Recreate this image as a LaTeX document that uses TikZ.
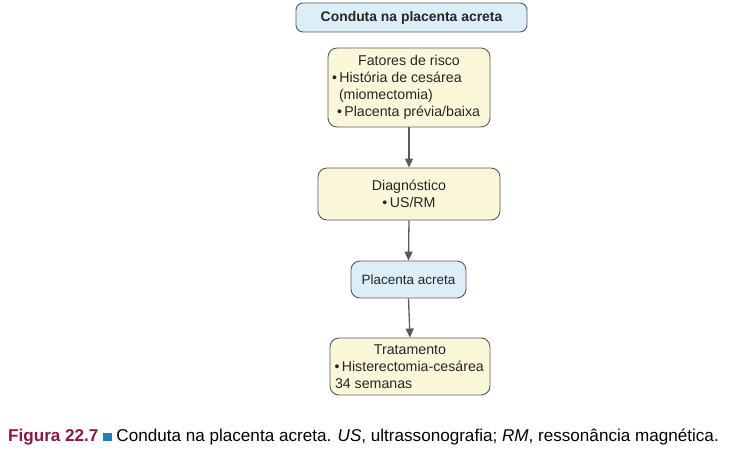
\documentclass[tikz,border=0pt]{standalone}
\usepackage{fontspec}
\setmainfont{Liberation Sans}
\usetikzlibrary{arrows.meta}
\definecolor{boxyellow}{HTML}{FBF8DA}
\definecolor{boxblue}{HTML}{DCEEF8}
\definecolor{edgegray}{HTML}{5A5A5A}
\definecolor{figred}{HTML}{8A1846}
\definecolor{sqblue}{HTML}{2A7AB8}
\begin{document}
\begin{tikzpicture}[x=1pt,y=-1pt,
  flowbox/.style={draw=edgegray, line width=0.9pt, rounded corners=9pt, inner sep=0pt,
    font=\fontsize{14.2}{17}\selectfont, text=black!85},
  yellowbox/.style={flowbox, fill=boxyellow},
  bluebox/.style={flowbox, fill=boxblue},
  flowarrow/.style={draw=edgegray, line width=1.3pt, -{Triangle[length=9pt,width=8pt]}}]
\useasboundingbox (0,0) rectangle (732,454);
\node[bluebox, minimum width=231pt, minimum height=29pt, font=\fontsize{13.9}{16}\selectfont\bfseries, rounded corners=7pt] (title) at (411.5,17.5) {Conduta na placenta acreta};
\node[yellowbox, minimum width=162pt, minimum height=79pt] (risk) at (409,87.5)
  {\begin{minipage}{156pt}\centering Fatores de risco\par
   \raggedright\hspace*{1pt}\textbullet\,História de cesárea\par
   \hspace*{8pt}(miomectomia)\par
   \hspace*{6pt}\textbullet\,Placenta prévia/baixa\par\end{minipage}};
\node[yellowbox, minimum width=182pt, minimum height=52pt, align=center] (diag) at (409,194) {Diagnóstico\\\textbullet\,US/RM};
\node[bluebox, minimum width=115pt, minimum height=37pt, font=\fontsize{13.5}{16}\selectfont] (acreta) at (408.5,279.5) {Placenta acreta};
\node[yellowbox, minimum width=160pt, minimum height=57pt] (trat) at (410,366.5)
  {\begin{minipage}{154pt}\centering Tratamento\par
   \raggedright\hspace*{1.5pt}\textbullet\,Histerectomia-cesárea\par
   \hspace*{2pt}34 semanas\par\end{minipage}};
\draw[flowarrow] (risk.south) -- (diag.north);
\draw[flowarrow] (diag.south) -- (acreta.north);
\draw[flowarrow] (acreta.south) -- (trat.north);
\node[anchor=west, inner sep=0pt, font=\fontsize{17.1}{19}\selectfont] (caption) at (8,437)
  {\textcolor{figred}{\bfseries Figura 22.7} \textcolor{sqblue}{\rule{8.5pt}{8.5pt}} Conduta na placenta acreta. \textit{US}, ultrassonografia; \textit{RM}, ressonância magnética.};
\end{tikzpicture}
\end{document}
